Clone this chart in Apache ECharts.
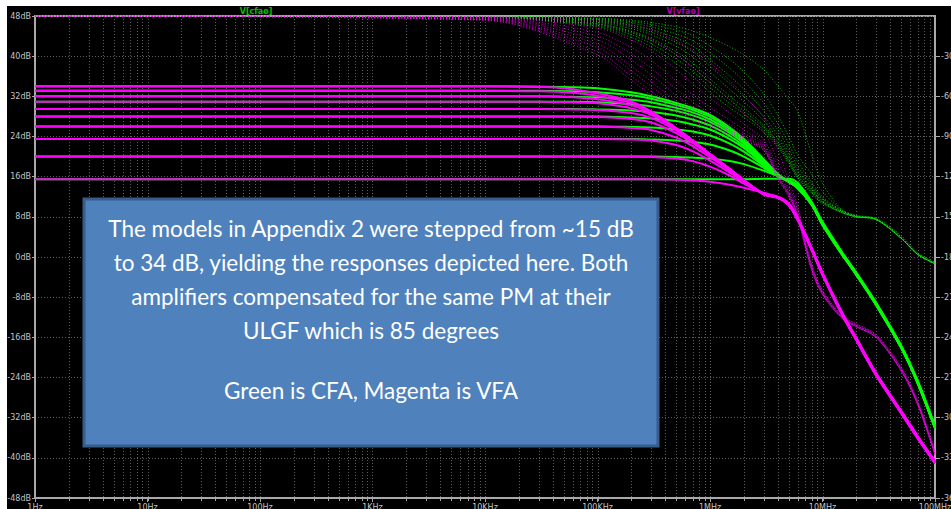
<!DOCTYPE html>
<html>
<head>
<meta charset="utf-8">
<script src="https://cdn.jsdelivr.net/npm/echarts@6/dist/echarts.min.js"></script>
<style>
  html, body { margin: 0; padding: 0; background: #ffffff; }
  #frame { position: absolute; left: 7px; top: 6px; width: 944px; height: 503px; background: #000000; }
  #chart { position: absolute; left: 0; top: 0; width: 951px; height: 509px; }
</style>
</head>
<body>
<div id="frame"></div>
<div id="chart"></div>
<script>
// Frequency points (Hz) for the magnitude traces
const FREQ = [1, 1e4, 3e4, 6e4, 1e5, 2e5, 3e5, 5e5, 7e5, 1e6, 1.5e6, 2e6, 3e6, 4e6, 5e6, 6e6, 8e6, 1e7, 1.5e7, 2e7, 3e7, 5e7, 7e7, 1e8];
// Frequency points (Hz) for the phase traces
const PFREQ = [1, 1e4, 1e5, 2e5, 3e5, 5e5, 7e5, 1e6, 1.5e6, 2e6, 3e6, 4e6, 5e6, 6e6, 8e6, 1e7, 1.5e7, 2e7, 3e7, 5e7, 7e7, 1e8];

// Axis tick labels
const FREQ_LABELS = ['1Hz', '10Hz', '100Hz', '1KHz', '10KHz', '100KHz', '1MHz', '10MHz', '100MHz'];
const DB_TICKS = [-48, -40, -32, -24, -16, -8, 0, 8, 16, 24, 32, 40, 48];
const DEG_TICKS = [-360, -330, -300, -270, -240, -210, -180, -150, -120, -90, -60, -30, 0];

// V(vfao) magnitude, dB, one trace per closed-loop gain step
const vfaMag34 = [34.0, 34.0, 33.9, 33.4, 32.6, 31.0, 29.0, 25.7, 23.2, 20.5, 17.5, 15.3, 12.5, 11.8, 10.4, 7.4, 1.4, -3.6, -11.6, -16.6, -23.6, -31.1, -36.1, -41.1];
const vfaMag33 = [33.1, 33.1, 33.0, 32.7, 32.1, 30.7, 28.9, 25.7, 23.2, 20.5, 17.5, 15.3, 12.5, 11.8, 10.4, 7.4, 1.4, -3.6, -11.6, -16.6, -23.6, -31.1, -36.1, -41.1];
const vfaMag32 = [32.0, 32.0, 32.0, 31.8, 31.4, 30.2, 28.6, 25.6, 23.2, 20.5, 17.5, 15.3, 12.5, 11.8, 10.4, 7.5, 1.5, -3.5, -11.5, -16.5, -23.5, -31.0, -36.0, -41.0];
const vfaMag31 = [30.9, 30.9, 30.9, 30.8, 30.6, 29.6, 28.3, 25.5, 23.1, 20.5, 17.5, 15.3, 12.5, 11.9, 10.4, 7.5, 1.5, -3.5, -11.5, -16.5, -23.5, -31.0, -36.0, -41.0];
const vfaMag29 = [29.5, 29.5, 29.5, 29.4, 29.3, 28.7, 27.7, 25.2, 23.0, 20.4, 17.5, 15.3, 12.5, 11.9, 10.4, 7.5, 1.5, -3.5, -11.5, -16.5, -23.5, -31.0, -36.0, -41.0];
const vfaMag28 = [28.0, 28.0, 28.0, 28.0, 27.9, 27.5, 26.8, 24.7, 22.7, 20.3, 17.4, 15.3, 12.6, 11.9, 10.5, 7.6, 1.6, -3.4, -11.4, -16.4, -23.4, -30.9, -35.9, -40.9];
const vfaMag26 = [26.0, 26.0, 26.0, 26.0, 26.0, 25.7, 25.3, 23.8, 22.1, 19.9, 17.2, 15.2, 12.6, 11.9, 10.5, 7.6, 1.6, -3.4, -11.4, -16.4, -23.4, -30.9, -35.9, -40.9];
const vfaMag23 = [23.5, 23.5, 23.5, 23.5, 23.5, 23.4, 23.2, 22.3, 21.1, 19.2, 16.8, 15.0, 12.6, 11.9, 10.5, 7.7, 1.7, -3.3, -11.3, -16.3, -23.3, -30.8, -35.8, -40.8];
const vfaMag20 = [20.0, 20.0, 20.0, 20.0, 20.0, 20.0, 19.9, 19.6, 19.1, 18.0, 16.2, 14.6, 12.7, 12.0, 10.6, 7.8, 1.8, -3.2, -11.2, -16.2, -23.2, -30.7, -35.7, -40.7];
const vfaMag15 = [15.5, 15.5, 15.5, 15.5, 15.5, 15.5, 15.5, 15.4, 15.3, 15.0, 14.4, 13.8, 12.8, 12.0, 10.7, 7.9, 1.9, -3.1, -11.1, -16.1, -23.1, -30.6, -35.6, -40.6];

// V(cfao) magnitude, dB
const cfaMag34 = [34.0, 34.0, 33.9, 33.8, 33.6, 32.8, 32.0, 30.7, 29.7, 28.3, 25.8, 23.5, 19.5, 16.6, 15.0, 13.8, 10.4, 6.4, 0.4, -3.6, -9.6, -18.1, -25.1, -34.1];
const cfaMag33 = [33.1, 33.1, 33.1, 33.0, 32.8, 32.2, 31.5, 30.3, 29.3, 27.9, 25.5, 23.2, 19.3, 16.5, 15.0, 13.8, 10.4, 6.4, 0.4, -3.6, -9.6, -18.1, -25.1, -34.1];
const cfaMag32 = [32.0, 32.0, 32.0, 31.9, 31.8, 31.3, 30.8, 29.7, 28.8, 27.4, 25.1, 22.9, 19.1, 16.4, 15.0, 13.8, 10.5, 6.5, 0.5, -3.5, -9.5, -18.0, -25.0, -34.0];
const cfaMag31 = [30.9, 30.9, 30.9, 30.9, 30.8, 30.4, 30.0, 29.1, 28.2, 26.9, 24.7, 22.6, 18.9, 16.3, 15.0, 13.8, 10.5, 6.5, 0.5, -3.5, -9.5, -18.0, -25.0, -34.0];
const cfaMag29 = [29.5, 29.5, 29.5, 29.5, 29.4, 29.2, 28.9, 28.2, 27.4, 26.2, 24.1, 22.1, 18.7, 16.2, 15.0, 13.8, 10.5, 6.5, 0.5, -3.5, -9.5, -18.0, -25.0, -34.0];
const cfaMag28 = [28.0, 28.0, 28.0, 28.0, 28.0, 27.8, 27.6, 27.1, 26.4, 25.4, 23.5, 21.7, 18.5, 16.2, 15.0, 13.8, 10.6, 6.6, 0.6, -3.4, -9.4, -17.9, -24.9, -33.9];
const cfaMag26 = [26.0, 26.0, 26.0, 26.0, 26.0, 25.9, 25.8, 25.4, 25.0, 24.2, 22.6, 21.0, 18.2, 16.1, 15.0, 13.9, 10.6, 6.6, 0.6, -3.4, -9.4, -17.9, -24.9, -33.9];
const cfaMag23 = [23.5, 23.5, 23.5, 23.5, 23.5, 23.5, 23.4, 23.2, 22.9, 22.4, 21.2, 20.0, 17.8, 16.1, 15.1, 14.0, 10.7, 6.7, 0.7, -3.3, -9.3, -17.8, -24.8, -33.8];
const cfaMag20 = [20.0, 20.0, 20.0, 20.0, 20.0, 20.0, 20.0, 19.9, 19.8, 19.6, 19.1, 18.5, 17.2, 16.1, 15.3, 14.3, 10.8, 6.8, 0.8, -3.2, -9.2, -17.7, -24.7, -33.7];
const cfaMag15 = [15.5, 15.5, 15.5, 15.5, 15.5, 15.5, 15.5, 15.5, 15.5, 15.5, 15.5, 15.5, 15.6, 15.6, 15.6, 14.8, 11.0, 7.0, 0.9, -3.1, -9.1, -17.6, -24.6, -33.6];

// V(vfao) phase, degrees
const vfaPh34 = [0, -3.2, -29.1, -48.0, -59.0, -71.2, -77.6, -82.8, -88.2, -92.9, -100.6, -122, -135, -151, -190, -208, -226, -232, -240, -265, -290, -328];
const vfaPh33 = [0, -2.9, -26.6, -45.0, -56.3, -69.2, -76.0, -81.7, -87.4, -92.3, -100.2, -121, -134, -150, -190, -208, -226, -232, -240, -265, -290, -328];
const vfaPh32 = [0, -2.5, -23.5, -41.0, -52.5, -66.3, -73.8, -80.0, -86.3, -91.4, -99.6, -120, -134, -150, -189, -208, -226, -232, -240, -265, -290, -328];
const vfaPh31 = [0, -2.2, -21.0, -37.6, -49.0, -63.5, -71.6, -78.4, -85.2, -90.6, -99.0, -120, -133, -149, -189, -207, -226, -232, -240, -265, -290, -327];
const vfaPh29 = [0, -1.8, -17.9, -32.8, -44.0, -59.2, -68.1, -75.8, -83.3, -89.2, -98.1, -119, -133, -149, -188, -207, -225, -232, -240, -264, -289, -327];
const vfaPh28 = [0, -1.5, -15.1, -28.4, -39.0, -54.5, -64.1, -72.7, -81.1, -87.5, -97.0, -118, -132, -148, -188, -207, -225, -231, -239, -264, -289, -327];
const vfaPh26 = [0, -1.2, -12.3, -23.5, -33.1, -48.4, -58.7, -68.3, -77.9, -85.0, -95.3, -116, -131, -148, -187, -206, -225, -231, -239, -264, -289, -326];
const vfaPh23 = [0, -0.9, -9.2, -17.9, -25.8, -39.9, -50.5, -61.2, -72.5, -80.8, -92.3, -113, -129, -147, -187, -206, -225, -231, -239, -263, -288, -326];
const vfaPh20 = [0, -0.6, -6.0, -11.9, -17.5, -28.8, -38.4, -49.5, -62.7, -72.6, -86.4, -108, -126, -145, -186, -205, -224, -230, -238, -263, -288, -325];
const vfaPh15 = [0, -0.4, -3.6, -7.1, -10.6, -18.4, -25.6, -35.0, -48.2, -59.3, -75.9, -100, -122, -142, -185, -205, -224, -230, -238, -262, -287, -325];

// V(cfao) phase, degrees
const cfaPh34 = [0, -0.8, -8.1, -16.0, -23.2, -35.5, -45.0, -57.0, -68.5, -75.7, -86.9, -98.0, -110.0, -121.0, -133, -140.0, -147.0, -150.0, -152.0, -166, -178, -185];
const cfaPh33 = [0, -0.7, -7.1, -14.0, -20.6, -32.0, -41.2, -53.3, -65.4, -73.2, -85.1, -96.7, -108.9, -120.4, -132, -139.5, -147.0, -150.0, -152.0, -166, -178, -185];
const cfaPh32 = [0, -0.6, -6.3, -12.5, -18.4, -29.0, -37.9, -50.0, -62.5, -70.8, -83.3, -95.3, -107.8, -119.5, -131, -139.0, -147.0, -150.0, -152.0, -166, -178, -185];
const cfaPh31 = [0, -0.6, -5.7, -11.3, -16.7, -26.6, -35.0, -47.0, -59.8, -68.4, -81.6, -94.0, -106.7, -118.5, -130, -138.5, -146.5, -150.0, -152.0, -166, -178, -185];
const cfaPh29 = [0, -0.5, -4.8, -9.5, -14.0, -22.6, -30.3, -41.8, -54.8, -64.0, -78.2, -91.3, -104.5, -116.7, -129, -138.0, -146.5, -150.0, -152.0, -166, -178, -185];
const cfaPh28 = [0, -0.4, -4.1, -8.1, -12.1, -19.7, -26.6, -37.5, -50.5, -60.0, -75.0, -88.7, -102.4, -114.9, -128, -137.0, -146.0, -149.5, -152.0, -166, -178, -185];
const cfaPh26 = [0, -0.3, -3.4, -6.7, -10.0, -16.4, -22.4, -32.5, -44.9, -54.6, -70.5, -85.0, -99.2, -112.2, -126, -136.0, -146.0, -149.5, -152.0, -166, -178, -185];
const cfaPh23 = [0, -0.3, -2.7, -5.4, -8.1, -13.4, -18.4, -27.5, -39.0, -48.6, -65.0, -80.3, -95.2, -108.7, -124, -135.0, -145.5, -149.5, -151.5, -165, -178, -185];
const cfaPh20 = [0, -0.2, -2.1, -4.2, -6.3, -10.5, -14.5, -22.3, -32.5, -41.5, -58.0, -74.0, -89.6, -103.8, -118, -131.0, -145.0, -149.0, -151.5, -165, -177, -184];
const cfaPh15 = [0, -0.2, -1.6, -3.2, -4.8, -8.0, -11.0, -16.0, -23.0, -29.0, -40.0, -52.0, -62.0, -71.0, -103, -125.0, -145.0, -149.0, -151.0, -164, -177, -184];

const VFA_MAG = [vfaMag34, vfaMag33, vfaMag32, vfaMag31, vfaMag29, vfaMag28, vfaMag26, vfaMag23, vfaMag20, vfaMag15];
const CFA_MAG = [cfaMag34, cfaMag33, cfaMag32, cfaMag31, cfaMag29, cfaMag28, cfaMag26, cfaMag23, cfaMag20, cfaMag15];
const VFA_PH = [vfaPh34, vfaPh33, vfaPh32, vfaPh31, vfaPh29, vfaPh28, vfaPh26, vfaPh23, vfaPh20, vfaPh15];
const CFA_PH = [cfaPh34, cfaPh33, cfaPh32, cfaPh31, cfaPh29, cfaPh28, cfaPh26, cfaPh23, cfaPh20, cfaPh15];

// Note box text
const NOTE_LINES = [
  'The models in Appendix 2 were stepped from ~15 dB',
  'to 34 dB, yielding the responses depicted here. Both',
  'amplifiers compensated for the same PM at their',
  'ULGF which is 85 degrees',
  '',
  'Green is CFA, Magenta is VFA'
];

const GREEN = '#00ff00';
const MAGENTA = '#ff00ff';
const AXIS_GREY = '#a9a9a9';
const LABEL_GREY = '#c4c4c4';
const GRID_GREY = '#5e5e5e';

// Log-decade grid positions (2..9 x 10^n plus inner decades)
const gridFreqs = [];
for (let d = 0; d < 8; d++) {
  for (let m = 1; m <= 9; m++) {
    if (d === 0 && m === 1) continue;
    gridFreqs.push(m * Math.pow(10, d));
  }
}

const chart = echarts.init(document.getElementById('chart'), null, { renderer: 'svg', width: 951, height: 509 });

function magSeries(values, color, z) {
  return {
    type: 'line', xAxisIndex: 0, yAxisIndex: 0,
    data: FREQ.map((f, i) => [f, values[i]]),
    symbol: 'none', smooth: 0.3, silent: true, z: z,
    lineStyle: { color: color, width: 2 }
  };
}
function phaseSeries(values, color, z) {
  return {
    type: 'line', xAxisIndex: 0, yAxisIndex: 1,
    data: PFREQ.map((f, i) => [f, values[i]]),
    symbol: 'none', smooth: 0.3, silent: true, z: z,
    lineStyle: { color: color, width: 1, type: [1, 2], opacity: 0.75 }
  };
}

const series = [];
// decade grid and minor ticks
series.push({
  type: 'custom', xAxisIndex: 0, yAxisIndex: 0, silent: true, z: 1,
  data: gridFreqs.map(f => [f, 0]),
  renderItem: function (params, api) {
    const top = api.coord([api.value(0), 48]);
    const bot = api.coord([api.value(0), -48]);
    const x = Math.round(top[0]) + 0.5;
    return {
      type: 'group',
      children: [
        { type: 'line', shape: { x1: x, y1: top[1], x2: x, y2: bot[1] },
          style: { stroke: GRID_GREY, lineWidth: 1, lineDash: [1, 2] } },
        { type: 'line', shape: { x1: x, y1: bot[1], x2: x, y2: bot[1] + 3 },
          style: { stroke: AXIS_GREY, lineWidth: 1 } }
      ]
    };
  }
});
CFA_PH.forEach(v => series.push(phaseSeries(v, GREEN, 2)));
CFA_MAG.forEach(v => series.push(magSeries(v, GREEN, 3)));
VFA_PH.forEach(v => series.push(phaseSeries(v, MAGENTA, 4)));
VFA_MAG.forEach(v => series.push(magSeries(v, MAGENTA, 5)));

const BOX = { x: 84, y: 199, w: 574, h: 247 };
const lineY = [228, 262, 296, 330, 360, 390];
const graphics = [
  { type: 'rect', z: 100, shape: { x: BOX.x, y: BOX.y, width: BOX.w, height: BOX.h },
    style: { fill: '#4f81bd', stroke: '#385d8a', lineWidth: 3 } },
  { type: 'text', z: 101, x: 256, y: 11,
    style: { text: 'V[cfao]', fill: '#00c000', font: 'bold 8px "DejaVu Sans"', align: 'center', verticalAlign: 'middle' } },
  { type: 'text', z: 101, x: 683, y: 11,
    style: { text: 'V[vfao]', fill: '#b000b0', font: 'bold 8px "DejaVu Sans"', align: 'center', verticalAlign: 'middle' } }
];
NOTE_LINES.forEach((t, i) => {
  if (!t) return;
  graphics.push({ type: 'text', z: 101, x: BOX.x + BOX.w / 2, y: lineY[i],
    style: { text: t, fill: '#ffffff', font: '22.5px Lato', align: 'center', verticalAlign: 'middle' } });
});

chart.setOption({
  animation: false,
  backgroundColor: 'transparent',
  grid: { left: 35, top: 16, width: 900, height: 482, show: true, borderColor: AXIS_GREY, borderWidth: 2,
          backgroundColor: 'transparent', containLabel: false, outerBoundsMode: 'none' },
  xAxis: {
    type: 'log', logBase: 10, min: 1, max: 1e8,
    axisLine: { show: true, onZero: false, lineStyle: { color: AXIS_GREY, width: 2 } },
    axisTick: { show: true, length: 4, lineStyle: { color: AXIS_GREY } },
    splitLine: { show: false },
    axisLabel: { color: LABEL_GREY, fontSize: 8, fontFamily: 'DejaVu Sans', margin: 5,
      formatter: v => FREQ_LABELS[Math.round(Math.log10(v))] }
  },
  yAxis: [
    {
      type: 'value', min: DB_TICKS[0], max: DB_TICKS[DB_TICKS.length - 1], interval: 8, position: 'left',
      axisLine: { show: true, onZero: false, lineStyle: { color: AXIS_GREY, width: 2 } },
      axisTick: { show: true, length: 3, lineStyle: { color: AXIS_GREY } },
      splitLine: { show: true, lineStyle: { color: GRID_GREY, type: [1, 2] } },
      axisLabel: { color: LABEL_GREY, fontSize: 8, fontFamily: 'DejaVu Sans', margin: 4, formatter: v => v + 'dB' }
    },
    {
      type: 'value', min: DEG_TICKS[0], max: DEG_TICKS[DEG_TICKS.length - 1], interval: 30, position: 'right',
      axisLine: { show: true, onZero: false, lineStyle: { color: AXIS_GREY, width: 2 } },
      axisTick: { show: true, length: 5, lineStyle: { color: AXIS_GREY } },
      splitLine: { show: false },
      axisLabel: { color: LABEL_GREY, fontSize: 8, fontFamily: 'DejaVu Sans', margin: 6, showMaxLabel: false,
        formatter: v => v + '°' }
    }
  ],
  series: series,
  graphic: graphics
});
</script>
</body>
</html>
